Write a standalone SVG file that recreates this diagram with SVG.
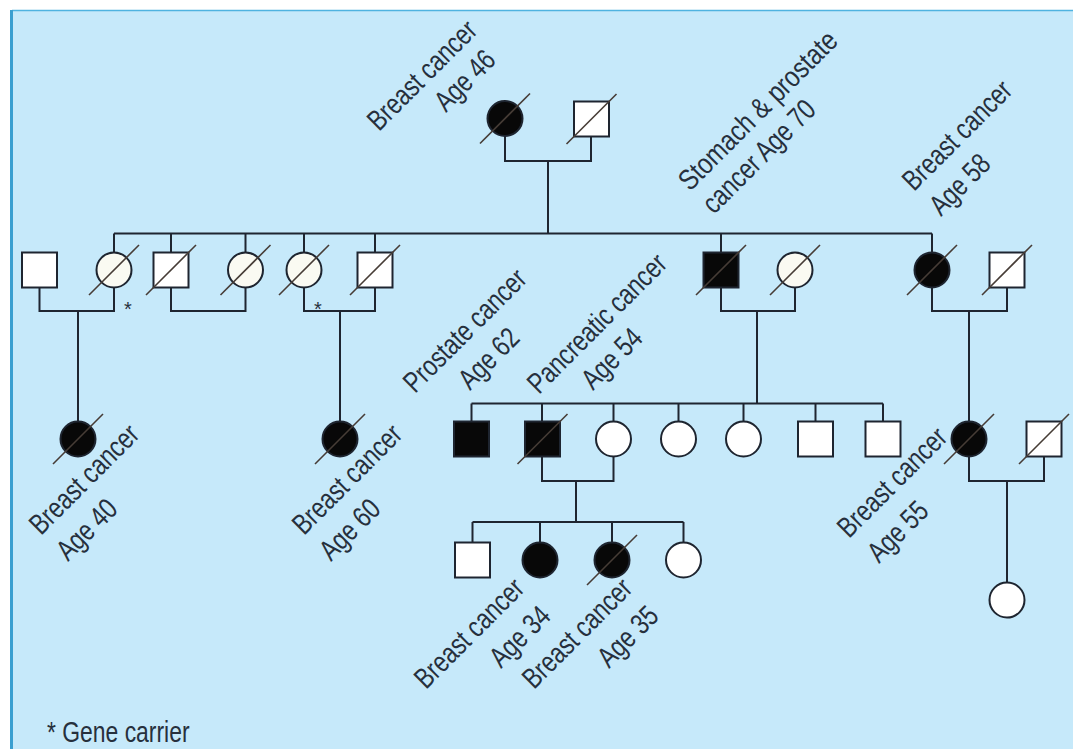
<svg xmlns="http://www.w3.org/2000/svg" width="1073" height="749" viewBox="0 0 1073 749">
<style>
.bg{fill:#c6e9fa}
.ln{stroke:#1e2530;stroke-width:2;fill:none}
.nd{fill:#ffffff;stroke:#1e2530;stroke-width:2}
.dn{fill:#fafaf2;stroke:#1e2530;stroke-width:2}
.af{fill:#080808;stroke:#1e2530;stroke-width:2}
.sl{stroke:#463c36;stroke-width:1.6}
.lb{font-family:"Liberation Sans",Arial,sans-serif;font-size:29px;fill:#26303d}
.ast{font-family:"Liberation Sans",Arial,sans-serif;font-size:20px;fill:#26303d;text-anchor:middle}
</style>
<rect x="0" y="0" width="1073" height="749" fill="#ffffff"/>
<rect class="bg" x="12" y="10" width="1061" height="739"/>
<line x1="12" y1="10.5" x2="1073" y2="10.5" stroke="#4fb3e0" stroke-width="1.5"/>
<line x1="11.5" y1="10" x2="11.5" y2="749" stroke="#3a9fd0" stroke-width="3"/>

<g id="connectors">
<path class="ln" d="M505,136 V161 H591 V136.5"/>
<path class="ln" d="M548,161 V233.5"/>
<path class="ln" d="M114,233.5 H932"/>
<path class="ln" d="M114,233.5 V252.5 M171,233.5 V252.5 M245.5,233.5 V252.5 M304,233.5 V252.5 M375,233.5 V252.5 M721,233.5 V252.5 M932,233.5 V252.5"/>
<path class="ln" d="M39.5,288 V311 H114 V287.5"/>
<path class="ln" d="M171,288 V311 H245.5 V287.5"/>
<path class="ln" d="M304,287.5 V311 H375 V288"/>
<path class="ln" d="M721,288 V311 H795 V287.5"/>
<path class="ln" d="M932,287.5 V311 H1007 V288"/>
<path class="ln" d="M78,311 V421.5"/>
<path class="ln" d="M340,311 V421.5"/>
<path class="ln" d="M757,311 V403.5"/>
<path class="ln" d="M969,311 V421.5"/>
<path class="ln" d="M471.5,403.5 H883"/>
<path class="ln" d="M471.5,403.5 V421.5 M542,403.5 V421.5 M613.5,403.5 V421.5 M678.5,403.5 V421.5 M743.5,403.5 V421.5 M815.5,403.5 V421.5 M883,403.5 V421.5"/>
<path class="ln" d="M542,456.5 V481 H613.5 V456.5"/>
<path class="ln" d="M969,456.5 V481 H1044 V456.5"/>
<path class="ln" d="M576,481 V522"/>
<path class="ln" d="M1007,481 V582.5"/>
<path class="ln" d="M472.5,522 H683.5"/>
<path class="ln" d="M472.5,522 V542.5 M540,522 V542.5 M612,522 V542.5 M683.5,522 V542.5"/>
</g>

<!-- Generation I -->
<g id="g1-mother">
<circle class="af" cx="505" cy="118.5" r="17.5"/>
<line class="sl" x1="480" y1="143.5" x2="530" y2="93.5"/>
<text class="lb" transform="translate(379,132) rotate(-45) scale(0.79,1)">Breast cancer</text>
<text class="lb" transform="translate(446,113) rotate(-45) scale(0.79,1)">Age 46</text>
</g>
<g id="g1-father">
<rect class="nd" x="574" y="101.5" width="35" height="35"/>
<line class="sl" x1="566.5" y1="144" x2="616.5" y2="94"/>
</g>

<!-- Generation II -->
<g id="g2-1">
<rect class="nd" x="22" y="252.5" width="35" height="35"/>
</g>
<g id="g2-2">
<circle class="dn" cx="114" cy="270" r="17.5"/>
<line class="sl" x1="89" y1="295" x2="139" y2="245"/>
<text class="ast" x="128" y="316">*</text>
</g>
<g id="g2-3">
<rect class="nd" x="153.5" y="252.5" width="35" height="35"/>
<line class="sl" x1="146" y1="295" x2="196" y2="245"/>
</g>
<g id="g2-4">
<circle class="dn" cx="245.5" cy="270" r="17.5"/>
<line class="sl" x1="220.5" y1="295" x2="270.5" y2="245"/>
</g>
<g id="g2-5">
<circle class="dn" cx="304" cy="270" r="17.5"/>
<line class="sl" x1="279" y1="295" x2="329" y2="245"/>
<text class="ast" x="318" y="316">*</text>
</g>
<g id="g2-6">
<rect class="nd" x="357.5" y="252.5" width="35" height="35"/>
<line class="sl" x1="350" y1="295" x2="400" y2="245"/>
</g>
<g id="g2-7">
<rect class="af" x="703.5" y="252.5" width="35" height="35"/>
<line class="sl" x1="696" y1="295" x2="746" y2="245"/>
<text class="lb" transform="translate(690,192) rotate(-45) scale(0.83,1)">Stomach &amp; prostate</text>
<text class="lb" transform="translate(714,215) rotate(-45) scale(0.79,1)">cancer Age 70</text>
</g>
<g id="g2-8">
<circle class="dn" cx="795" cy="270" r="17.5"/>
<line class="sl" x1="770" y1="295" x2="820" y2="245"/>
</g>
<g id="g2-9">
<circle class="af" cx="932" cy="270" r="17.5"/>
<line class="sl" x1="907" y1="295" x2="957" y2="245"/>
<text class="lb" transform="translate(914,192) rotate(-45) scale(0.79,1)">Breast cancer</text>
<text class="lb" transform="translate(941,217) rotate(-45) scale(0.79,1)">Age 58</text>
</g>
<g id="g2-10">
<rect class="nd" x="989.5" y="252.5" width="35" height="35"/>
<line class="sl" x1="982" y1="295" x2="1032" y2="245"/>
</g>

<!-- Generation III -->
<g id="g3-1">
<circle class="af" cx="78" cy="439" r="17.5"/>
<line class="sl" x1="53" y1="464" x2="103" y2="414"/>
<text class="lb" transform="translate(41,536) rotate(-45) scale(0.79,1)">Breast cancer</text>
<text class="lb" transform="translate(68,562) rotate(-45) scale(0.79,1)">Age 40</text>
</g>
<g id="g3-2">
<circle class="af" cx="340" cy="439" r="17.5"/>
<line class="sl" x1="315" y1="464" x2="365" y2="414"/>
<text class="lb" transform="translate(304,536) rotate(-45) scale(0.79,1)">Breast cancer</text>
<text class="lb" transform="translate(331,562) rotate(-45) scale(0.79,1)">Age 60</text>
</g>
<g id="g3-3">
<rect class="af" x="454" y="421.5" width="35" height="35"/>
<text class="lb" transform="translate(415,394) rotate(-45) scale(0.79,1)">Prostate cancer</text>
<text class="lb" transform="translate(470,391) rotate(-45) scale(0.79,1)">Age 62</text>
</g>
<g id="g3-4">
<rect class="af" x="525" y="421.5" width="35" height="35"/>
<line class="sl" x1="517.5" y1="464" x2="567.5" y2="414"/>
<text class="lb" transform="translate(539,395) rotate(-45) scale(0.79,1)">Pancreatic cancer</text>
<text class="lb" transform="translate(593,391) rotate(-45) scale(0.79,1)">Age 54</text>
</g>
<g id="g3-5">
<circle class="nd" cx="613.5" cy="439" r="17.5"/>
</g>
<g id="g3-6">
<circle class="nd" cx="678.5" cy="439" r="17.5"/>
</g>
<g id="g3-7">
<circle class="nd" cx="743.5" cy="439" r="17.5"/>
</g>
<g id="g3-8">
<rect class="nd" x="798" y="421.5" width="35" height="35"/>
</g>
<g id="g3-9">
<rect class="nd" x="865.5" y="421.5" width="35" height="35"/>
</g>
<g id="g3-10">
<circle class="af" cx="969" cy="439" r="17.5"/>
<line class="sl" x1="944" y1="464" x2="994" y2="414"/>
<text class="lb" transform="translate(849,539) rotate(-45) scale(0.79,1)">Breast cancer</text>
<text class="lb" transform="translate(879,564) rotate(-45) scale(0.79,1)">Age 55</text>
</g>
<g id="g3-11">
<rect class="nd" x="1026.5" y="421.5" width="35" height="35"/>
<line class="sl" x1="1019" y1="464" x2="1069" y2="414"/>
</g>

<!-- Generation IV -->
<g id="g4-1">
<rect class="nd" x="455" y="542.5" width="35" height="35"/>
</g>
<g id="g4-2">
<circle class="af" cx="540" cy="560" r="17.5"/>
<text class="lb" transform="translate(426,690) rotate(-45) scale(0.79,1)">Breast cancer</text>
<text class="lb" transform="translate(501,669) rotate(-45) scale(0.79,1)">Age 34</text>
</g>
<g id="g4-3">
<circle class="af" cx="612" cy="560" r="17.5"/>
<line class="sl" x1="587" y1="585" x2="637" y2="535"/>
<text class="lb" transform="translate(534,690) rotate(-45) scale(0.79,1)">Breast cancer</text>
<text class="lb" transform="translate(609,669) rotate(-45) scale(0.79,1)">Age 35</text>
</g>
<g id="g4-4">
<circle class="nd" cx="683.5" cy="560" r="17.5"/>
</g>
<g id="g4-5">
<circle class="nd" cx="1007" cy="600" r="17.5"/>
</g>

<g id="legend">
<text class="lb" transform="translate(47,742) scale(0.79,1)">* Gene carrier</text>
</g>
</svg>
